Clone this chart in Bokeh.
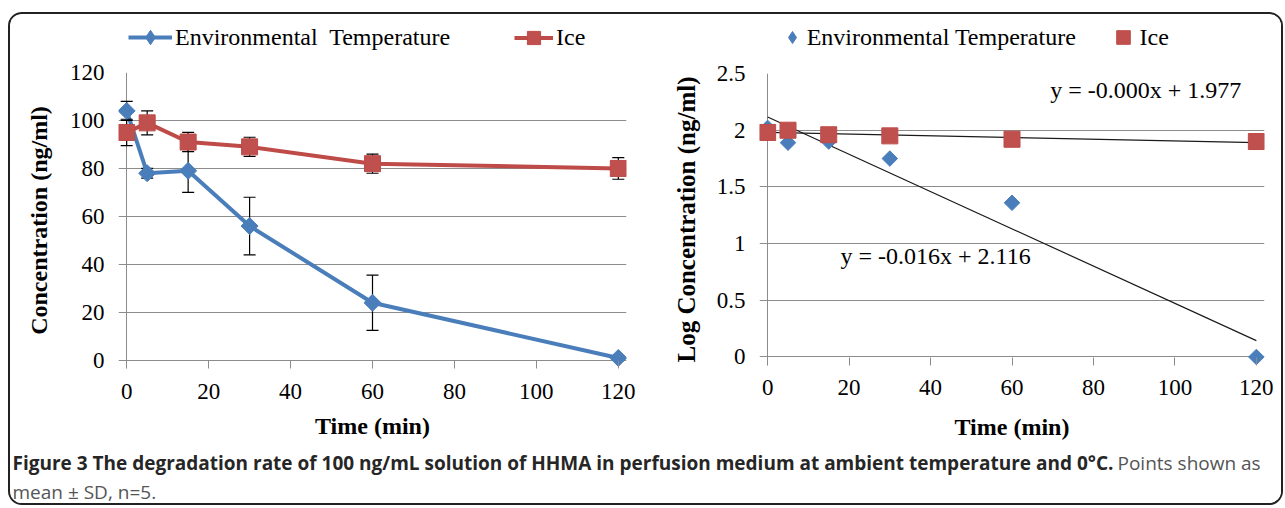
import numpy as np
from bokeh.plotting import figure
from bokeh.models import ColumnDataSource, Legend, LegendItem, Label, FixedTicker, Range1d
from bokeh.layouts import row, column
from bokeh.embed import file_html
from bokeh.resources import INLINE

# ---------------- data ----------------
time_min = [0, 5, 15, 30, 60, 120]
env_conc = [104, 78, 79, 56, 24, 1]
env_sd = [4, 2, 9, 12, 11.5, 1]
ice_conc = [95, 99, 91, 89, 82, 80]
ice_sd = [5.5, 5, 4, 4, 4, 4.5]
env_log = [2.02, 1.89, 1.90, 1.75, 1.36, 0.0]
ice_log = [1.98, 2.00, 1.96, 1.95, 1.92, 1.90]

x_ticks = [0, 20, 40, 60, 80, 100, 120]
left_y_ticks = [0, 20, 40, 60, 80, 100, 120]
right_y_ticks = [0, 0.5, 1, 1.5, 2, 2.5]
right_y_labels = ["0", "0.5", "1", "1.5", "2", "2.5"]
y_axis_at = [0]

env_label_left = "Environmental  Temperature"
env_label_right = "Environmental Temperature"
ice_label = "Ice"
x_title = "Time (min)"
left_y_title = "Concentration (ng/ml)"
right_y_title = "Log Concentration (ng/ml)"
eq_ice = "y = -0.000x + 1.977"
eq_env = "y = -0.016x + 2.116"
caption_bold = ("Figure 3 The degradation rate of 100 ng/mL solution of HHMA in perfusion "
                "medium at ambient temperature and 0\u00b0C.")
caption_regular = "Points shown as"
caption_line2 = "mean \u00b1 SD, n=5."

# ---------------- styles ----------------
SERIF = "Liberation Serif"
BLUE = "#4A7EBB"
RED = "#C0504D"
RED_LINE = "#BE4B48"
GRID = "#8C8C8C"


def style_axes(p, xl_std, yl_std, xt_std, yt_std):
    p.outline_line_color = None
    p.background_fill_color = "white"
    p.border_fill_color = "white"
    p.xgrid.ticker = FixedTicker(ticks=y_axis_at)
    p.xgrid.grid_line_color = GRID
    p.ygrid.grid_line_color = GRID
    p.ygrid.grid_line_width = 1
    for ax in (p.xaxis[0], p.yaxis[0]):
        ax.axis_line_color = None
        ax.minor_tick_line_color = None
        ax.major_label_text_font = SERIF
        ax.major_label_text_font_size = "23px"
        ax.major_label_text_color = "black"
        ax.axis_label_text_font = SERIF
        ax.axis_label_text_font_style = "bold"
        ax.axis_label_text_font_size = "24px"
        ax.axis_label_text_color = "black"
    xa = p.xaxis[0]
    xa.major_tick_line_color = GRID
    xa.major_tick_in = 8
    xa.major_tick_out = 0
    ya = p.yaxis[0]
    ya.major_tick_line_color = None
    ya.major_tick_in = 0
    ya.major_tick_out = 0
    xa.major_label_standoff = xl_std
    ya.major_label_standoff = yl_std
    xa.axis_label_standoff = xt_std
    ya.axis_label_standoff = yt_std


def make_strip(width, height, hidden=False):
    rng = (Range1d(-2, -1), Range1d(-2, -1)) if hidden else (Range1d(0, width), Range1d(0, height))
    s = figure(width=width, height=height, x_range=rng[0], y_range=rng[1],
               output_backend="svg", toolbar_location=None,
               min_border_left=0, min_border_right=0, min_border_top=0, min_border_bottom=0)
    s.axis.visible = False
    s.grid.visible = False
    s.outline_line_color = None
    s.background_fill_color = "white"
    s.border_fill_color = "white"
    return s


def make_legend(items, x, y, gw, gh, standoff):
    return Legend(items=items, location=(x, y), orientation="horizontal",
                  glyph_width=gw, glyph_height=gh, label_height=gh,
                  label_standoff=standoff, padding=0, margin=0, spacing=0,
                  border_line_color=None, background_fill_alpha=0,
                  label_text_font=SERIF, label_text_font_size="24px",
                  label_text_color="black")


STRIP_H = 45
W1, W2 = 640, 631
H_PLOT = 388
L1, L2 = 108, 109          # left borders (frame offsets) of the two charts

# ---------------- left chart ----------------
p1 = figure(width=W1, height=H_PLOT, x_range=Range1d(-2, 122), y_range=Range1d(-3.4, 120),
            output_backend="svg", toolbar_location=None,
            min_border_left=L1, min_border_right=W1 - L1 - 508, min_border_top=13,
            min_border_bottom=H_PLOT - 13 - 296)
style_axes(p1, 15, 14, 11, 15)
p1.xaxis.ticker = FixedTicker(ticks=x_ticks)
p1.yaxis.ticker = FixedTicker(ticks=left_y_ticks)
p1.xaxis.axis_label = x_title
p1.yaxis.axis_label = left_y_title

env_src = ColumnDataSource(dict(
    x=time_min, y=env_conc,
    lo=[v - s for v, s in zip(env_conc, env_sd)],
    hi=[v + s for v, s in zip(env_conc, env_sd)]))
ice_src = ColumnDataSource(dict(
    x=time_min, y=ice_conc,
    lo=[v - s for v, s in zip(ice_conc, ice_sd)],
    hi=[v + s for v, s in zip(ice_conc, ice_sd)]))

p1.line("x", "y", source=env_src, line_color=BLUE, line_width=4)
for src in (env_src, ice_src):
    p1.segment(x0="x", y0="lo", x1="x", y1="hi", source=src, line_color="black", line_width=1.2)
    p1.scatter(x="x", y="lo", source=src, marker="dash", size=12, line_color="black", line_width=1.2)
    p1.scatter(x="x", y="hi", source=src, marker="dash", size=12, line_color="black", line_width=1.2)
p1.scatter("x", "y", source=env_src, marker="square", angle=np.pi / 4, size=12,
           fill_color=BLUE, line_color=BLUE)
p1.line("x", "y", source=ice_src, line_color=RED_LINE, line_width=4)
p1.scatter("x", "y", source=ice_src, marker="square", size=16,
           fill_color=RED, line_color=RED_LINE)

# legend strip above the left chart (its frame is aligned with the chart's frame)
s1 = make_strip(W1, STRIP_H, hidden=True)
l_env_line = s1.line("x", "y", source=env_src, line_color=BLUE, line_width=4)
l_env_mk = s1.scatter("x", "y", source=env_src, marker="diamond", fill_color=BLUE, line_color=BLUE)
l_ice_line = s1.line("x", "y", source=ice_src, line_color=RED_LINE, line_width=4)
l_ice_mk = s1.scatter("x", "y", source=ice_src, marker="square", fill_color=RED, line_color=RED_LINE)
s1.add_layout(make_legend([LegendItem(label=env_label_left, renderers=[l_env_line, l_env_mk])],
                          118 - L1, 4, 44, 36, 3), "center")
s1.add_layout(make_legend([LegendItem(label=ice_label, renderers=[l_ice_line, l_ice_mk])],
                          504 - L1, 5.5, 39, 33, 3), "center")

# ---------------- right chart ----------------
p2 = figure(width=W2, height=H_PLOT, x_range=Range1d(-2, 122), y_range=Range1d(-0.075, 2.5),
            output_backend="svg", toolbar_location=None,
            min_border_left=L2, min_border_right=W2 - L2 - 505, min_border_top=14,
            min_border_bottom=H_PLOT - 14 - 292)
style_axes(p2, 14, 14, 16, 14)
p2.yaxis[0].axis_label_text_font_size = "25px"
p2.xaxis.ticker = FixedTicker(ticks=x_ticks)
p2.yaxis.ticker = FixedTicker(ticks=right_y_ticks)
p2.yaxis.major_label_overrides = {float(t): s for t, s in zip(right_y_ticks, right_y_labels)}
p2.xaxis.axis_label = x_title
p2.yaxis.axis_label = right_y_title

tx = np.array([min(time_min), max(time_min)], dtype=float)
env_fit = np.polyfit(time_min, env_log, 1)
ice_fit = np.polyfit(time_min, ice_log, 1)
p2.line(tx, np.polyval(env_fit, tx), line_color="#1a1a1a", line_width=1.2)
p2.line(tx, np.polyval(ice_fit, tx), line_color="#1a1a1a", line_width=1.2)

env_log_src = ColumnDataSource(dict(x=time_min, y=env_log))
ice_log_src = ColumnDataSource(dict(x=time_min, y=ice_log))
p2.scatter("x", "y", source=env_log_src, marker="square", angle=np.pi / 4, size=11,
           fill_color=BLUE, line_color=BLUE)
p2.scatter("x", "y", source=ice_log_src, marker="square", size=16,
           fill_color=RED, line_color=RED_LINE)

p2.add_layout(Label(x=69.4, y=2.354, text=eq_ice, text_font=SERIF, text_font_size="24px",
                    text_baseline="middle", text_align="left", text_color="black"))
p2.add_layout(Label(x=17.9, y=0.889, text=eq_env, text_font=SERIF, text_font_size="24px",
                    text_baseline="middle", text_align="left", text_color="black"))

s2 = make_strip(W2, STRIP_H, hidden=True)
r_env_mk = s2.scatter("x", "y", source=env_log_src, marker="diamond", fill_color=BLUE, line_color=BLUE)
r_ice_mk = s2.scatter("x", "y", source=ice_log_src, marker="square", fill_color=RED, line_color=RED_LINE)
s2.add_layout(make_legend([LegendItem(label=env_label_right, renderers=[r_env_mk])],
                          126.7 - L2, 7, 30, 30, 0), "center")
s2.add_layout(make_legend([LegendItem(label=ice_label, renderers=[r_ice_mk])],
                          455.5 - L2, 3, 34, 38, 0), "center")

# ---------------- caption ----------------
CAP_W, CAP_H = W1 + W2, 56
cap = make_strip(CAP_W, CAP_H)
cap.add_layout(Label(x=2, y=41, text=caption_bold, text_font="Open Sans",
                     text_font_style="bold", text_font_size="19px", text_color="#262626",
                     text_baseline="middle", text_align="left"))
cap.add_layout(Label(x=1107, y=41, text=caption_regular, text_font="Open Sans",
                     text_font_size="19px", text_color="#555555",
                     text_baseline="middle", text_align="left"))
cap.add_layout(Label(x=2, y=12, text=caption_line2, text_font="Open Sans",
                     text_font_size="19px", text_color="#555555",
                     text_baseline="middle", text_align="left"))

layout = column(row(column(s1, p1), column(s2, p2)), cap,
                margin=(12, 0, 0, 8),
                styles={"border": "2px solid #222222", "border-radius": "14px",
                        "overflow": "hidden"})

open("out.html", "w").write(file_html(layout, INLINE))
